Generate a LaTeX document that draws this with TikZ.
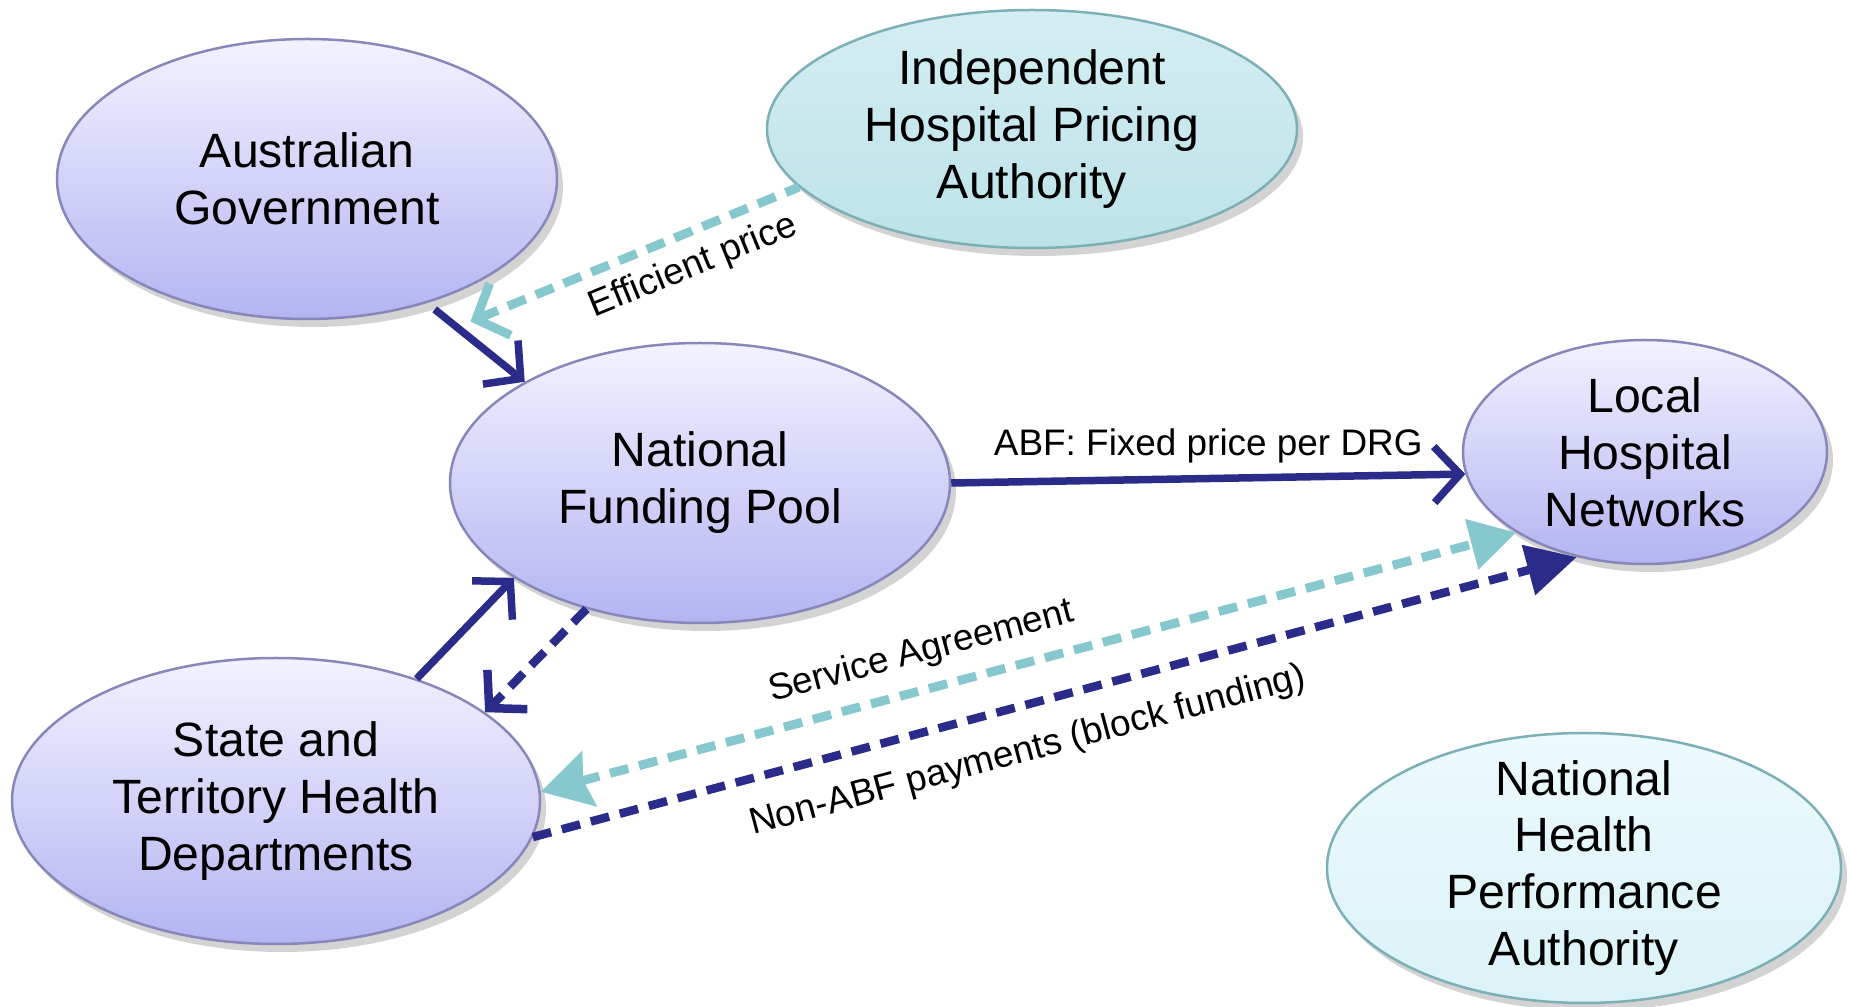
\documentclass[tikz,border=0pt]{standalone}
\usepackage{fontspec}
\setmainfont{Liberation Sans}
\usetikzlibrary{shapes.geometric, shadows, arrows.meta}
\definecolor{arrowblue}{RGB}{43,43,138}
\definecolor{arrowteal}{RGB}{134,200,206}
\definecolor{lilactop}{RGB}{242,242,255}
\definecolor{lilacbottom}{RGB}{180,180,242}
\definecolor{lilacedge}{RGB}{135,135,185}
\definecolor{tealtop}{RGB}{212,238,242}
\definecolor{tealbottom}{RGB}{188,226,232}
\definecolor{paletop}{RGB}{236,250,252}
\definecolor{palebottom}{RGB}{218,242,247}
\definecolor{tealedge}{RGB}{125,175,182}
\tikzstyle{body}=[
    ellipse,
    align = center,
    inner sep = 0pt,
    inner ysep = -3mm,
    font = \fontsize{13.7}{16.2}\selectfont,
    drop shadow = {opacity = 0.35, shadow xshift = 0.6mm, shadow yshift = -0.8mm}
]
\tikzstyle{lilac body}=[
    body,
    draw = lilacedge,
    line width = 0.25mm,
    top color = lilactop,
    bottom color = lilacbottom
]
\tikzstyle{teal body}=[
    body,
    draw = tealedge,
    line width = 0.25mm,
    top color = tealtop,
    bottom color = tealbottom
]
\tikzstyle{pale body}=[
    body,
    draw = tealedge,
    line width = 0.25mm,
    top color = paletop,
    bottom color = palebottom
]

\begin{document}
\begin{tikzpicture}[x=0.1mm, y=-0.1mm,
    flow/.style = {draw = arrowblue, line width = 0.75mm,
        -{Straight Barb[length = 2.6mm, width = 5.6mm]}},
    blue dash/.style = {draw = arrowblue, line width = 0.85mm,
        dash pattern = on 1.9mm off 1.1mm},
    teal dash/.style = {draw = arrowteal, line width = 0.9mm,
        dash pattern = on 1.9mm off 1.1mm},
    lbl/.style = {font = \fontsize{10.5}{12.6}\selectfont}]
    \useasboundingbox (0,0) rectangle (1850,1007);

    \node[lilac body, minimum width = 50mm, minimum height = 28mm] (ag) at (307,179) {Australian\\Government};
    \node[teal body, minimum width = 53mm, minimum height = 23.8mm] (ihpa) at (1032,129) {Independent\\Hospital Pricing\\Authority};
    \node[lilac body, minimum width = 50mm, minimum height = 28mm] (nfp) at (700,483) {National\\Funding Pool};
    \node[lilac body, minimum width = 36.4mm, minimum height = 22.4mm] (lhn) at (1645,452) {Local\\Hospital\\Networks};
    \node[lilac body, minimum width = 52.8mm, minimum height = 28.6mm] (state) at (276,801) {State and\\Territory Health\\Departments};
    \node[pale body, minimum width = 51.4mm, minimum height = 27mm] (nhpa) at (1584,868) {National\\Health\\Performance\\Authority};

    \draw[flow, shorten <= 1mm] (ag.-46) -- (nfp.150);
    \draw[teal dash, {Straight Barb[length = 2.6mm, width = 5.6mm]}-] ([shift={(27,24)}]ag.-41) -- (ihpa.194)
        node [lbl, pos = 0.64, sloped, below] {Efficient price};
    \draw[flow] (nfp.0) -- (lhn.187) node [lbl, midway, above] {ABF: Fixed price per DRG};
    \draw[flow] (state.41) -- (nfp.207);
    \draw[blue dash, -{Straight Barb[length = 2.6mm, width = 5.6mm]}] (nfp.228) -- (state.23);
    \draw[teal dash, {Stealth[length = 5mm, width = 5.6mm, inset = 0.6mm]}-{Triangle[length = 4.6mm, width = 5mm]}] (state.2) -- (lhn.212)
        node [lbl, pos = 0.4, sloped, above = 1pt] {Service Agreement};
    \draw[blue dash, -{Triangle[length = 5mm, width = 5mm]}] (state.-8) -- (lhn.237)
        node [lbl, pos = 0.463, sloped, below = 3.5pt] {Non-ABF payments (block funding)};

\end{tikzpicture}
\end{document}
